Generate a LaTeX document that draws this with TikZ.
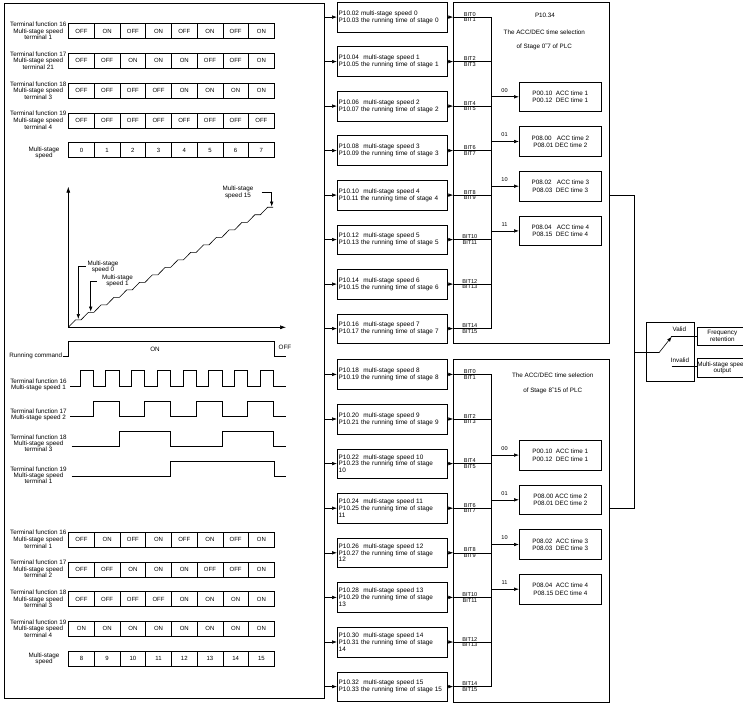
\documentclass[tikz,border=0pt]{standalone}
\usepackage{fontspec}
\setmainfont{Liberation Sans}
\usetikzlibrary{arrows.meta,calc}
\begin{document}
\begin{tikzpicture}[x=1pt,y=-1pt,line width=0.6pt,
 lbl/.style={font=\fontsize{6.3}{6.6}\selectfont,align=center,inner sep=0pt},
 tlbl/.style={font=\fontsize{6.3}{6.0}\selectfont,align=center,inner sep=0pt},
 cell/.style={draw,minimum width=25.7pt,minimum height=15pt,inner sep=0pt,anchor=north west,font=\fontsize{6}{7}\selectfont},
 pbox/.style={draw,minimum height=29.6pt,anchor=north west,inner xsep=1.4pt,inner ysep=0pt,text width=107.2pt,align=left,font=\fontsize{6.4}{6.8}\selectfont},
 abox/.style={draw,minimum width=82pt,minimum height=29.6pt,anchor=north west,inner sep=0pt,align=center,font=\fontsize{6.3}{7.5}\selectfont},
 bitl/.style={font=\fontsize{5.6}{6}\selectfont,inner sep=0pt},
 ttl/.style={font=\fontsize{6.3}{7}\selectfont,inner sep=0pt},
 frame/.style={draw,anchor=north west,inner sep=0pt},
 arr/.style={-{Latex[length=5pt,width=3.6pt]}},
 axarr/.style={-{Latex[length=6pt,width=4pt]}},
]
\useasboundingbox (0,0) rectangle (743,703);
\clip (0,0) rectangle (743,703);

% frames
\node[frame,minimum width=320.3pt,minimum height=694.7pt] (lf) at (4,3.3) {};
\node[frame,minimum width=155.3pt,minimum height=341.3pt] (bf1) at (453.3,1.7) {};
\node[frame,minimum width=155.3pt,minimum height=342.4pt] (bf2) at (453.3,359.3) {};

% tables
\foreach \r/\y/\vals in {ta/23.3/{OFF,ON,OFF,ON,OFF,ON,OFF,ON},
  tb/53.1/{OFF,OFF,ON,ON,ON,OFF,OFF,ON},
  tc/82.9/{OFF,OFF,OFF,OFF,ON,ON,ON,ON},
  td/112.7/{OFF,OFF,OFF,OFF,OFF,OFF,OFF,OFF},
  te/142.5/{0,1,2,3,4,5,6,7},
  ba/531.7/{OFF,ON,OFF,ON,OFF,ON,OFF,ON},
  bb/561.5/{OFF,OFF,ON,ON,ON,OFF,OFF,ON},
  bc/591.3/{OFF,OFF,OFF,OFF,ON,ON,ON,ON},
  bd/621.1/{ON,ON,ON,ON,ON,ON,ON,ON},
  be/650.9/{8,9,10,11,12,13,14,15}}{
  \foreach \v [count=\i from 0] in \vals {
    \node[cell] (\r\i) at ({68.3+25.7*\i},\y) {\v};
  }
}
\node[lbl] (lta) at (38.3,30.8) {Terminal function 16\\Multi-stage speed\\terminal 1};
\node[lbl] (ltb) at (38.3,60.6) {Terminal function 17\\Multi-stage speed\\terminal 21};
\node[lbl] (ltc) at (38.3,90.4) {Terminal function 18\\Multi-stage speed\\terminal 3};
\node[lbl] (ltd) at (38.3,120.2) {Terminal function 19\\Multi-stage speed\\terminal 4};
\node[lbl] (lte) at (44,153) {Multi-stage\\speed};
\node[lbl] (lba) at (38.3,539.2) {Terminal function 16\\Multi-stage speed\\terminal 1};
\node[lbl] (lbb) at (38.3,569) {Terminal function 17\\Multi-stage speed\\terminal 2};
\node[lbl] (lbc) at (38.3,598.8) {Terminal function 18\\Multi-stage speed\\terminal 3};
\node[lbl] (lbd) at (38.3,628.6) {Terminal function 19\\Multi-stage speed\\terminal 4};
\node[lbl] (lbe) at (44,659) {Multi-stage\\speed};

% graph
\coordinate (O) at (68.3,327.3);
\draw[axarr] (O) -- (68.3,186.7);
\draw[axarr] (O) -- (286,327.3);
\draw (O) \foreach \k in {1,...,16} { -- ++(7.3,-7.5) -- ++(5.5,0) };
\node[lbl] (m0) at (103,267) {Multi-stage\\speed 0};
\draw[arr] (85.5,266) -- (78.3,266) -- (78.3,319);
\node[lbl] (m1) at (117.5,281) {Multi-stage\\speed 1};
\draw[arr] (96.7,281.7) -- (90.7,281.7) -- (90.7,311.6);
\node[lbl] (m15) at (238,192.3) {Multi-stage\\speed 15};
\draw[arr] (261.7,192.7) -- (271.7,192.7) -- (271.7,206.6);

% timing
\node[lbl,anchor=east] (rc) at (62.5,356) {Running command};
\draw (rc.east |- 0,356.7) -- (68.3,356.7) -- (68.3,341) -- (274,341) -- (274,356.7) -- (286,356.7);
\node[lbl] (on) at (155,349) {ON};
\node[lbl] (off) at (285,347.7) {OFF};

\node[tlbl] (w16) at (38.5,384.5) {Terminal function 16\\Multi-stage speed 1};
\draw (70,386) \foreach \i in {0,...,7} { -- ({80+25.7*\i},386) -- ({80+25.7*\i},370.7) -- ({93.3+25.7*\i},370.7) -- ({93.3+25.7*\i},386) } -- (286,386);
\node[tlbl] (w17) at (38.5,414.5) {Terminal function 17\\Multi-stage speed 2};
\draw (70,416) \foreach \i in {0,...,3} { -- ({93.3+51.4*\i},416) -- ({93.3+51.4*\i},401) -- ({119+51.4*\i},401) -- ({119+51.4*\i},416) } -- (286,416);
\node[tlbl] (w18) at (38.5,442.8) {Terminal function 18\\Multi-stage speed\\terminal 3};
\draw (71.7,446) \foreach \i in {0,1} { -- ({119+102.8*\i},446) -- ({119+102.8*\i},431) -- ({170.7+102.8*\i},431) -- ({170.7+102.8*\i},446) } -- (286,446);
\node[tlbl] (w19) at (38.5,475) {Terminal function 19\\Multi-stage speed\\terminal 1};
\draw (71.7,476) -- (170.7,476) -- (170.7,461) -- (274,461) -- (274,476) -- (286,476);

% middle boxes
\node[pbox] (p0) at (337,2) {P10.02 multi-stage speed 0\\P10.03 the running time of stage 0};
\node[pbox] (p1) at (337,46.5) {P10.04\ \ multi-stage speed 1\\P10.05 the running time of stage 1};
\node[pbox] (p2) at (337,91) {P10.06\ \ multi-stage speed 2\\P10.07 the running time of stage 2};
\node[pbox] (p3) at (337,135.5) {P10.08\ \ multi-stage speed 3\\P10.09 the running time of stage 3};
\node[pbox] (p4) at (337,180) {P10.10\ \ multi-stage speed 4\\P10.11 the running time of stage 4};
\node[pbox] (p5) at (337,224.5) {P10.12\ \ multi-stage speed 5\\P10.13 the running time of stage 5};
\node[pbox] (p6) at (337,269) {P10.14\ \ multi-stage speed 6\\P10.15 the running time of stage 6};
\node[pbox] (p7) at (337,313.5) {P10.16\ \ multi-stage speed 7\\P10.17 the running time of stage 7};
\node[pbox] (q0) at (337,359.3) {P10.18\ \ multi-stage speed 8\\P10.19 the running time of stage 8};
\node[pbox] (q1) at (337,403.9) {P10.20\ \ multi-stage speed 9\\P10.21 the running time of stage 9};
\node[pbox] (q2) at (337,448.5) {P10.22\ \ multi-stage speed 10\\P10.23 the running time of stage\\10};
\node[pbox] (q3) at (337,493.1) {P10.24\ \ multi-stage speed 11\\P10.25 the running time of stage\\11};
\node[pbox] (q4) at (337,537.7) {P10.26\ \ multi-stage speed 12\\P10.27 the running time of stage\\12};
\node[pbox] (q5) at (337,582.3) {P10.28\ \ multi-stage speed 13\\P10.29 the running time of stage\\13};
\node[pbox] (q6) at (337,626.9) {P10.30\ \ multi-stage speed 14\\P10.31 the running time of stage\\14};
\node[pbox] (q7) at (337,671.5) {P10.32\ \ multi-stage speed 15\\P10.33 the running time of stage\hspace{0.3em}15};

\coordinate (bus) at (491.7,0);
\foreach \k/\a/\b in {0/0/1,1/2/3,2/4/5,3/6/7,4/8/9,5/10/11,6/12/13,7/14/15}{
  \draw[arr] (lf.east |- p\k.west) -- (p\k.west);
  \draw[arr] (p\k.east) -- (p\k.east -| bf1.west);
  \draw (p\k.east -| bf1.west) -- (p\k.east -| bus);
  \node[bitl,anchor=south] at ($(p\k.east -| bf1.west)+(16.5,-0.6)$) {BIT\a};
  \node[bitl,anchor=north] at ($(p\k.east -| bf1.west)+(16.5,0.6)$) {BIT\b};
  \draw[arr] (lf.east |- q\k.west) -- (q\k.west);
  \draw[arr] (q\k.east) -- (q\k.east -| bf2.west);
  \draw (q\k.east -| bf2.west) -- (q\k.east -| bus);
  \node[bitl,anchor=south] at ($(q\k.east -| bf2.west)+(16.5,-0.6)$) {BIT\a};
  \node[bitl,anchor=north] at ($(q\k.east -| bf2.west)+(16.5,0.6)$) {BIT\b};
}
\draw (p0.east -| bus) -- (p7.east -| bus);
\draw (q0.east -| bus) -- (q7.east -| bus);

% titles
\node[ttl] (t1) at (545,15) {P10.34};
\node[ttl] (t2) at (544.3,32.7) {The ACC/DEC time selection};
\node[ttl] (t3) at (544.3,46.7) {of Stage 0˜7 of PLC};
\node[ttl] (t4) at (552.7,375.7) {The ACC/DEC time selection};
\node[ttl] (t5) at (552.7,391) {of Stage 8˜15 of PLC};

% ACC boxes
\node[abox] (a0) at (519,81.7) {P00.10\ \ ACC time 1\\P00.12\ \ DEC time 1};
\node[abox] (a1) at (519,126.4) {P08.00\ \ \ ACC time 2\\P08.01 DEC time 2};
\node[abox] (a2) at (519,171.1) {P08.02\ \ \ ACC time 3\\P08.03\ \ DEC time 3};
\node[abox] (a3) at (519,215.8) {P08.04\ \ \ ACC time 4\\P08.15\ \ DEC time 4};
\node[abox] (c0) at (519,440) {P00.10\ \ ACC time 1\\P00.12\ \ DEC time 1};
\node[abox] (c1) at (519,484.7) {P08.00 ACC time 2\\P08.01 DEC time 2};
\node[abox] (c2) at (519,529.4) {P08.02\ \ ACC time 3\\P08.03\ \ DEC time 3};
\node[abox] (c3) at (519,574.1) {P08.04\ \ ACC time 4\\P08.15 DEC time 4};
\foreach \k/\l in {0/00,1/01,2/10,3/11}{
  \draw[arr] (bus |- a\k.west) -- (a\k.west);
  \node[bitl] at ($(bus |- a\k.west)+(12.8,-6.5)$) {\l};
  \draw[arr] (bus |- c\k.west) -- (c\k.west);
  \node[bitl] at ($(bus |- c\k.west)+(12.8,-6.5)$) {\l};
}

% output and switch
\coordinate (j1) at (634,195.3);
\coordinate (j2) at (634,507.9);
\coordinate (j3) at (634,352.7);
\draw (bf1.east |- j1) -- (j1) -- (j2) -- (bf2.east |- j2);
\node[frame,minimum width=48.6pt,minimum height=59.3pt] (sw) at (645.7,321.7) {};
\coordinate (s1) at (659,352.7);
\coordinate (s2) at (671.7,336.7);
\coordinate (s3) at (671.7,366.7);
\draw (j3) -- (s1);
\draw[arr] (s1) -- (s2);
\node[frame,minimum width=50.6pt,minimum height=18.3pt,align=center,font=\fontsize{6.3}{6.6}\selectfont] (fr) at (696.7,326.7) {Frequency\\retention};
\node[frame,minimum width=50.6pt,minimum height=18.3pt,align=center,font=\fontsize{6.3}{6.6}\selectfont] (ms) at (696.7,358.3) {Multi-stage speed\\output};
\draw (670.7,336.7) -- (fr.west |- s2);
\draw (s3) -- (ms.west |- s3);
\node[ttl] (valid) at (679.3,329.3) {Valid};
\node[ttl] (invalid) at (680,360) {Invalid};
\end{tikzpicture}
\end{document}
